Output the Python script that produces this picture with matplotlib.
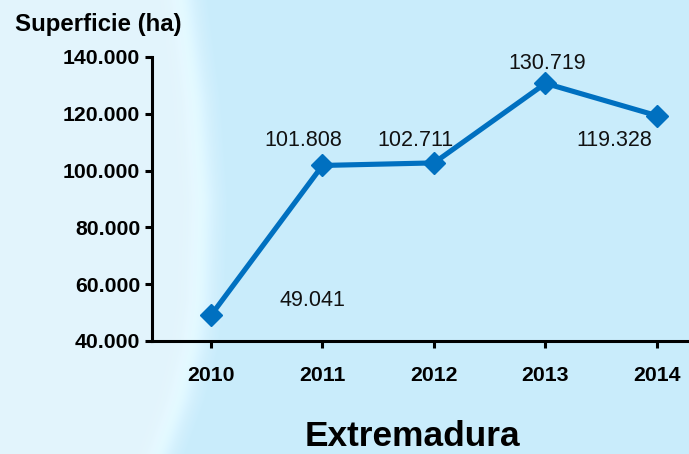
import numpy as np
import matplotlib.pyplot as plt
from matplotlib.ticker import FuncFormatter

years = ["2010", "2011", "2012", "2013", "2014"]
superficie = [49041, 101808, 102711, 130719, 119328]
labels = ["49.041", "101.808", "102.711", "130.719", "119.328"]
y_ticks = [40000, 60000, 80000, 100000, 120000, 140000]

# label offsets in points (layout only)
label_offsets = [(73, 11), (-14, 18), (-13, 16), (1.5, 14), (-31, -18)]

W, H = 689, 454
fig = plt.figure(figsize=(W / 100, H / 100), dpi=100)
plt.rcParams['font.family'] = ['Liberation Sans', 'DejaVu Sans']

## background: pale left part, light blue right part, soft boundary
bg = fig.add_axes([0, 0, 1, 1], zorder=-10)
rows = np.arange(H)
ctrl_y = [0, 100, 200, 300, 350, 400, 454]
ctrl_x = [190, 203, 210, 207, 200, 187, 167]
xb = np.interp(rows, ctrl_y, ctrl_x)
cols = np.arange(W)
t = np.clip((cols[None, :] - xb[:, None]) / 35.0 + 0.5, 0, 1)
pale = np.array([0.89, 0.96, 0.99])
blue = np.array([0.79, 0.928, 0.988])
img = pale[None, None, :] * (1 - t[..., None]) + blue[None, None, :] * t[..., None]
# faint light streak along the boundary
streak = np.exp(-((cols[None, :] - xb[:, None] + 8) / 10.0) ** 2) * 0.025
img = np.clip(img + streak[..., None], 0, 1)
bg.imshow(img, aspect='auto', extent=[0, W, H, 0])
bg.axis('off')

ax = fig.add_axes([152 / W, (H - 341) / H, (W - 152) / W, 284 / H])
ax.set_facecolor('none')
x = np.arange(len(years))
ax.plot(x, superficie, color='#0070C0', lw=3.7, marker='D', ms=11, clip_on=False)

for i, (lab, off) in enumerate(zip(labels, label_offsets)):
    ax.annotate(lab, (x[i], superficie[i]), xytext=off, textcoords='offset points',
                ha='center', va='center', fontsize=15.5, color='#111111')

ax.set_xlim(-0.529, 4.287)
ax.set_ylim(40000, 140000)
ax.set_yticks(y_ticks)
ax.yaxis.set_major_formatter(FuncFormatter(lambda v, p: f"{int(v):,}".replace(",", ".")))
ax.set_xticks(x)
ax.set_xticklabels(years)
for s in ['top', 'right']:
    ax.spines[s].set_visible(False)
for s in ['left', 'bottom']:
    ax.spines[s].set_linewidth(2.2)
ax.tick_params(axis='both', direction='out', length=5, width=2.2, labelsize=15.3)
ax.tick_params(axis='x', pad=13)
for lab in ax.get_xticklabels() + ax.get_yticklabels():
    lab.set_fontweight('bold')

fig.text(15 / W, 1 - 25 / H, "Superficie (ha)", fontsize=17.3, fontweight='bold', va='center', ha='left')
fig.text(412 / W, 1 - 437 / H, "Extremadura", fontsize=25.4, fontweight='bold', va='center', ha='center')

fig.savefig('out.png', dpi=100)
